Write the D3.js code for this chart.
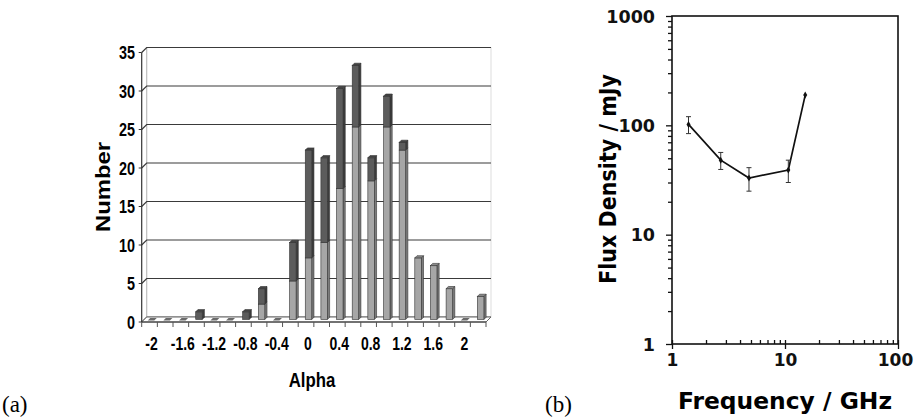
<!DOCTYPE html>
<html>
<head>
<meta charset="utf-8">
<script src="https://d3js.org/d3.v7.min.js"></script>
<style>
  body { margin: 0; background: #fff; }
  svg { display: block; }
</style>
</head>
<body>
<svg id="drawing_region"></svg>
<script>
// ---- panel (a): spectral index histogram ----
const alpha = [-2, -1.8, -1.6, -1.4, -1.2, -1.0, -0.8, -0.6, -0.4, -0.2, 0,
               0.2, 0.4, 0.6, 0.8, 1.0, 1.2, 1.4, 1.6, 1.8, 2.0, 2.2];
const lowerCount = [0, 0, 0, 0, 0, 0, 0, 2, 0, 5, 8, 10, 17, 25, 18, 25, 22, 8, 7, 4, 0, 3];
const upperCount = [0, 0, 0, 1, 0, 0, 1, 2, 0, 5, 14, 11, 13, 8, 3, 4, 1, 0, 0, 0, 0, 0];
const alphaTicks = [-2, -1.6, -1.2, -0.8, -0.4, 0, 0.4, 0.8, 1.2, 1.6, 2];
const alphaTickLabels = ['-2', '-1.6', '-1.2', '-0.8', '-0.4', '0', '0.4', '0.8', '1.2', '1.6', '2'];
const numberTicks = [0, 5, 10, 15, 20, 25, 30, 35];

// ---- panel (b): radio spectrum ----
const freqGHz = [1.4, 2.7, 4.8, 10.7, 15.1];
const fluxMJy = [102, 48, 33, 39, 189];
const fluxErr = [18, 8.5, 8, 9, 0];
const fluxMajor = [1, 10, 100, 1000];
const freqMajor = [1, 10, 100];

const svg = d3.select('#drawing_region')
    .attr('width', 915)
    .attr('height', 419);

// no narrow face installed: squeeze Liberation Sans bold horizontally
const sans = "'Liberation Sans', Arial, sans-serif";
const squeeze = 0.8;
const wide = "'DejaVu Sans', Verdana, sans-serif";

// ================= panel (a) =================
{
    const depth = { dx: 5, dy: -5 };
    const x = d3.scalePoint()
        .domain(alpha)
        .range([149.5, 149.5 + 21 * 15.65]);
    const y = d3.scaleLinear()
        .domain([0, 35])
        .range([322, 52.5]);
    const step = x.step();
    const x0 = 141.7, x1 = x0 + 22 * step;

    const g = svg.append('g');

    // back wall + side wall
    g.append('rect')
        .attr('x', x0 + depth.dx).attr('y', y(35) + depth.dy)
        .attr('width', x1 - x0).attr('height', y(0) - y(35))
        .attr('fill', '#fff').attr('stroke', '#ddd').attr('stroke-width', 1);
    g.append('line')
        .attr('x1', x0 + depth.dx).attr('x2', x0 + depth.dx)
        .attr('y1', y(35) + depth.dy).attr('y2', y(0) + depth.dy)
        .attr('stroke', '#bbb');

    // gridlines on back wall
    g.selectAll('.grid')
        .data(numberTicks)
        .join('polyline')
        .attr('class', 'grid')
        .attr('points', d => `${x0},${y(d)} ${x0 + depth.dx},${y(d) + depth.dy} ${x1 + depth.dx},${y(d) + depth.dy}`)
        .attr('fill', 'none')
        .attr('stroke', d => d === 0 ? '#888' : '#3a3a3a')
        .attr('stroke-width', 1.2);

    // floor
    g.append('polygon')
        .attr('points', [[x0, y(0)], [x0 + depth.dx, y(0) + depth.dy], [x1 + depth.dx, y(0) + depth.dy], [x1, y(0)]].join(' '))
        .attr('fill', '#fff').attr('stroke', '#666').attr('stroke-width', 1);

    // bars (stacked, drawn at mid depth)
    const mid = { dx: 2.5, dy: -2.5 };
    const bw = 6.5, sw = 2.2;
    const stacks = alpha.map((a, i) => ({ a, lo: lowerCount[i], hi: upperCount[i] }));

    function prism(sel, cx, yb, yt, front, side, top) {
        const xl = cx - bw / 2 + mid.dx, xr = xl + bw;
        const b = yb + mid.dy, t = yt + mid.dy;
        sel.append('polygon')
            .attr('points', `${xr},${b} ${xr + sw},${b - sw} ${xr + sw},${t - sw} ${xr},${t}`)
            .attr('fill', side).attr('stroke', '#333').attr('stroke-width', 0.6);
        sel.append('rect')
            .attr('x', xl).attr('y', t).attr('width', bw).attr('height', Math.max(b - t, 0))
            .attr('fill', front).attr('stroke', '#333').attr('stroke-width', 0.6);
        if (top) {
            sel.append('polygon')
                .attr('points', `${xl},${t} ${xl + sw},${t - sw} ${xr + sw},${t - sw} ${xr},${t}`)
                .attr('fill', top).attr('stroke', '#333').attr('stroke-width', 0.6);
        }
    }

    const bars = g.append('g');
    stacks.forEach(s => {
        const cx = x(s.a);
        const gb = bars.append('g');
        if (s.lo + s.hi === 0) {
            // flat marker on floor
            const xl = cx - bw / 2 + mid.dx;
            const b = y(0) + mid.dy;
            gb.append('polygon')
                .attr('points', `${xl - 1},${b + 1} ${xl + 1.5},${b - 1.5} ${xl + bw + 1.5},${b - 1.5} ${xl + bw - 1},${b + 1}`)
                .attr('fill', '#6a6a6a');
            return;
        }
        if (s.lo > 0) {
            prism(gb, cx, y(0), y(s.lo), '#a6a6a6', '#7c7c7c', s.hi > 0 ? null : '#8a8a8a');
        }
        if (s.hi > 0) {
            prism(gb, cx, y(s.lo), y(s.lo + s.hi), '#5c5c5c', '#3c3c3c', '#444');
        }
    });

    // front axis
    g.append('line')
        .attr('x1', x0).attr('x2', x0).attr('y1', y(35)).attr('y2', y(0))
        .attr('stroke', '#333').attr('stroke-width', 1.2);
    g.append('line')
        .attr('x1', x0).attr('x2', x1).attr('y1', y(0)).attr('y2', y(0))
        .attr('stroke', '#333').attr('stroke-width', 1.2);
    g.selectAll('.ytick')
        .data(numberTicks)
        .join('line')
        .attr('x1', x0 - 3).attr('x2', x0)
        .attr('y1', d => y(d)).attr('y2', d => y(d))
        .attr('stroke', '#333');
    g.selectAll('.xtick')
        .data(d3.range(23))
        .join('line')
        .attr('x1', d => x0 + d * step).attr('x2', d => x0 + d * step)
        .attr('y1', y(0)).attr('y2', y(0) + 5)
        .attr('stroke', '#555');

    g.selectAll('.ylab')
        .data(numberTicks)
        .join('text')
        .attr('transform', d => `translate(135,${y(d) + 6.5}) scale(${squeeze},1)`)
        .attr('text-anchor', 'end')
        .style('font-family', sans).style('font-weight', 'bold').style('font-size', '18px')
        .text(d => d);
    g.selectAll('.xlab')
        .data(alphaTicks)
        .join('text')
        .attr('transform', d => `translate(${x(alpha.find(a => Math.abs(a - d) < 1e-9)) + 2},350) scale(${squeeze},1)`)
        .attr('text-anchor', 'middle')
        .style('font-family', sans).style('font-weight', 'bold').style('font-size', '17.5px')
        .text((d, i) => alphaTickLabels[i]);

    g.append('text')
        .attr('transform', `translate(312,387) scale(${squeeze},1)`)
        .attr('text-anchor', 'middle')
        .style('font-family', sans).style('font-weight', 'bold').style('font-size', '21px')
        .text('Alpha');
    g.append('text')
        .attr('transform', 'translate(110,187) rotate(-90)')
        .attr('text-anchor', 'middle')
        .attr('textLength', 90).attr('lengthAdjust', 'spacingAndGlyphs')
        .style('font-family', sans).style('font-weight', 'bold').style('font-size', '20px')
        .text('Number');
}

// ================= panel (b) =================
{
    const x = d3.scaleLog().domain([1, 100]).range([672, 898]);
    const y = d3.scaleLog().domain([1, 1000]).range([344, 16]);
    const g = svg.append('g');

    const yMinor = y.ticks().filter(d => !fluxMajor.includes(d));
    const xMinor = x.ticks().filter(d => !freqMajor.includes(d));

    // frame
    g.append('rect')
        .attr('x', x(1)).attr('y', y(1000))
        .attr('width', x(100) - x(1)).attr('height', y(1) - y(1000))
        .attr('fill', 'none').attr('stroke', '#111').attr('stroke-width', 1.6);

    g.append('g')
        .attr('transform', `translate(${x(1)},0)`)
        .call(d3.axisLeft(y).tickValues(yMinor).tickSize(4).tickFormat(''))
        .call(a => a.select('.domain').remove())
        .call(a => a.selectAll('line').attr('stroke', '#111').attr('stroke-width', 1.3));
    g.append('g')
        .attr('transform', `translate(${x(1)},0)`)
        .call(d3.axisLeft(y).tickValues(fluxMajor).tickSize(6).tickPadding(11).tickFormat(d3.format('d')))
        .call(a => a.select('.domain').remove())
        .call(a => a.selectAll('line').attr('stroke', '#111').attr('stroke-width', 1.3))
        .call(a => a.selectAll('text')
            .attr('dy', '0.36em')
            .style('font-family', wide).style('font-weight', 'bold').style('font-size', '17.5px').attr('fill', '#111'));

    g.append('g')
        .attr('transform', `translate(0,${y(1)})`)
        .call(d3.axisBottom(x).tickValues(xMinor).tickSize(-4).tickFormat(''))
        .call(a => a.select('.domain').remove())
        .call(a => a.selectAll('line').attr('stroke', '#111').attr('stroke-width', 1.3));
    g.append('g')
        .attr('transform', `translate(0,${y(1)})`)
        .call(d3.axisBottom(x).tickValues(freqMajor).tickSize(5).tickPadding(17).tickFormat(d3.format('d')))
        .call(a => a.select('.domain').remove())
        .call(a => a.selectAll('line').attr('y1', -4).attr('stroke', '#111').attr('stroke-width', 1.3))
        .call(a => a.selectAll('text')
            .attr('dy', '0')
            .attr('dx', d => d === 100 ? -3 : 0)
            .style('font-family', wide).style('font-weight', 'bold').style('font-size', '17px').attr('fill', '#111'));

    const pts = freqGHz.map((f, i) => ({ f, s: fluxMJy[i], e: fluxErr[i] }));

    g.append('path')
        .datum(pts)
        .attr('d', d3.line().x(d => x(d.f)).y(d => y(d.s)))
        .attr('fill', 'none').attr('stroke', '#111').attr('stroke-width', 1.7);

    const eb = g.selectAll('.err')
        .data(pts.filter(d => d.e > 0))
        .join('g').attr('class', 'err')
        .attr('stroke', '#333').attr('stroke-width', 1);
    eb.append('line')
        .attr('x1', d => x(d.f)).attr('x2', d => x(d.f))
        .attr('y1', d => y(d.s + d.e)).attr('y2', d => y(d.s - d.e));
    eb.append('line')
        .attr('x1', d => x(d.f) - 2.5).attr('x2', d => x(d.f) + 2.5)
        .attr('y1', d => y(d.s + d.e)).attr('y2', d => y(d.s + d.e));
    eb.append('line')
        .attr('x1', d => x(d.f) - 2.5).attr('x2', d => x(d.f) + 2.5)
        .attr('y1', d => y(d.s - d.e)).attr('y2', d => y(d.s - d.e));

    g.selectAll('.pt')
        .data(pts)
        .join('path')
        .attr('class', 'pt')
        .attr('transform', d => `translate(${x(d.f)},${y(d.s)})`)
        .attr('d', d3.symbol(d3.symbolDiamond, 14))
        .attr('fill', '#111');

    g.append('text')
        .attr('x', 785).attr('y', 409)
        .attr('text-anchor', 'middle')
        .attr('textLength', 214).attr('lengthAdjust', 'spacingAndGlyphs')
        .style('font-family', wide).style('font-weight', 'bold').style('font-size', '23px')
        .text('Frequency / GHz');
    g.append('text')
        .attr('transform', 'translate(616,179) rotate(-90)')
        .attr('text-anchor', 'middle')
        .attr('textLength', 210).attr('lengthAdjust', 'spacingAndGlyphs')
        .style('font-family', wide).style('font-weight', 'bold').style('font-size', '23px')
        .text('Flux Density / mJy');
}

// panel letters
svg.append('text')
    .attr('x', 2).attr('y', 412)
    .style('font-family', "'Liberation Serif', 'DejaVu Serif', serif").style('font-size', '23px')
    .text('(a)');
svg.append('text')
    .attr('x', 545).attr('y', 412)
    .style('font-family', "'Liberation Serif', 'DejaVu Serif', serif").style('font-size', '23px')
    .text('(b)');
</script>
</body>
</html>
